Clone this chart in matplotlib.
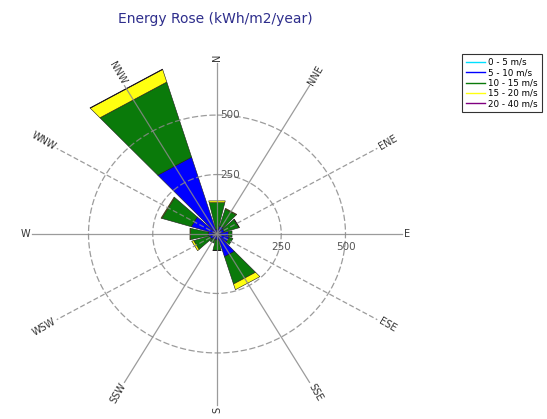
import numpy as np
import matplotlib
matplotlib.use('Agg')
import matplotlib.pyplot as plt
from matplotlib.lines import Line2D

# directions of the rose and their bearings (deg, clockwise from north)
directions = ['N', 'NNE', 'ENE', 'E', 'ESE', 'SSE', 'S', 'SSW', 'WSW', 'W', 'WNW', 'NNW']
bearings = [0, 30, 60, 90, 120, 150, 180, 210, 240, 270, 300, 330]

# energy per speed class (kWh/m2/year)
e_0_5 = [5, 5, 5, 5, 5, 5, 5, 5, 5, 5, 5, 8]
e_5_10 = [15, 30, 25, 40, 45, 95, 20, 20, 25, 30, 100, 330]
e_10_15 = [115, 75, 60, 15, 15, 120, 45, 15, 65, 70, 120, 330]
e_15_20 = [8, 3, 2, 0, 0, 25, 2, 0, 8, 3, 3, 55]
e_20_40 = [0, 0, 0, 0, 0, 0, 0, 0, 0, 0, 0, 2]

classes = ['0 - 5 m/s', '5 - 10 m/s', '10 - 15 m/s', '15 - 20 m/s', '20 - 40 m/s']
colors = ['#00e0ff', '#0000ff', '#0a7a0a', '#ffff10', '#800080']
rings = [250, 500]
rmax = 730
spoke_len = 720
half_w = 13  # half width of a wedge, deg
dashed_spokes = [60, 120, 240, 300]

fig = plt.figure(figsize=(5.47, 4.19), dpi=100)
ax = fig.add_axes([0.0537, 0.027, 0.686, 0.829], projection='polar')
ax.set_aspect('auto')
ax.set_theta_zero_location('N')
ax.set_theta_direction(-1)
ax.set_rlim(0, rmax)
ax.grid(False)
ax.set_xticks([])
ax.set_yticks([])
ax.spines['polar'].set_visible(False)
ax.patch.set_visible(False)

# stacked wedges, straight edged like the original
bottom = np.zeros(len(directions))
for vals, col in zip([e_0_5, e_5_10, e_10_15, e_15_20, e_20_40], colors):
    vals = np.array(vals, dtype=float)
    for b, lo, v in zip(bearings, bottom, vals):
        if v <= 0:
            continue
        th = np.radians([b - half_w, b + half_w, b + half_w, b - half_w])
        rr = [lo, lo, lo + v, lo + v]
        ax.fill(th, rr, facecolor=col, edgecolor='#1a1a1a', linewidth=0.4, zorder=2)
    bottom += vals

# rings
t = np.linspace(0, 2 * np.pi, 400)
for r in rings:
    ax.plot(t, np.full_like(t, r), color='#8a8a8a', lw=0.9, ls=(0, (5, 2)),
            alpha=0.85, zorder=3)

# spokes and direction labels
for name, b in zip(directions, bearings):
    th = np.radians(b)
    ls = (0, (4, 2)) if b in dashed_spokes else '-'
    ax.plot([th, th], [0, spoke_len], color='#8a8a8a', lw=0.9, ls=ls,
            alpha=0.85, zorder=3, clip_on=False)
    if b < 180:
        rot, ha = 90 - b, 'left'
    else:
        rot, ha = 270 - b, 'right'
    ax.text(th, spoke_len + 8, name, rotation=rot, rotation_mode='anchor',
            ha=ha, va='center', fontsize=7, color='#333333', clip_on=False)

# ring labels
for r in rings:
    ax.annotate(str(r), xy=(0, r), xytext=(2, 0), textcoords='offset points',
                ha='left', va='center', fontsize=7.5, color='#555555')
    ax.annotate(str(r), xy=(np.pi / 2, r), xytext=(0, -9), textcoords='offset points',
                ha='center', va='center', fontsize=7.5, color='#555555')

fig.text(0.393, 0.955, 'Energy Rose (kWh/m2/year)', ha='center', va='center',
         fontsize=10, color='#2e2e8c')

handles = [Line2D([0], [0], color=c, lw=1) for c in colors]
leg = fig.legend(handles, classes, loc='upper left', bbox_to_anchor=(0.845, 0.87),
                 fontsize=6.3, frameon=True, fancybox=False, handlelength=2.2,
                 handletextpad=0.4, labelspacing=0.15, borderpad=0.4,
                 borderaxespad=0)
leg.get_frame().set_edgecolor('black')
leg.get_frame().set_linewidth(0.8)

fig.savefig('out.png', dpi=100)
